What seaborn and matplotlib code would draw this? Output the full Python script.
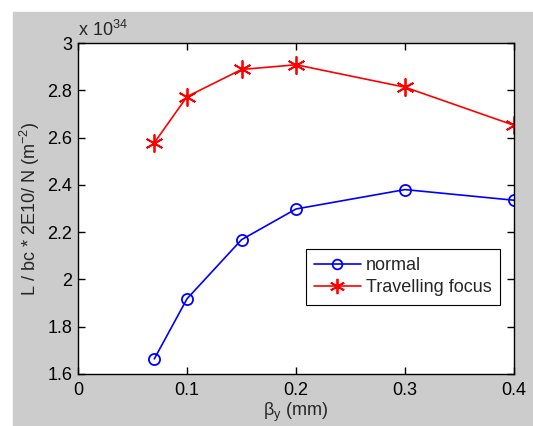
import matplotlib
matplotlib.use('Agg')
import matplotlib.pyplot as plt
import matplotlib.patches as mpatches
import seaborn as sns

# data (luminosity in units of 1e34)
beta_y = [0.07, 0.1, 0.15, 0.2, 0.3, 0.4]
normal = [1.664, 1.918, 2.168, 2.298, 2.380, 2.335]
travelling = [2.578, 2.773, 2.888, 2.908, 2.813, 2.652]
series_names = ['normal', 'Travelling focus']

sns.set_style('ticks')
plt.rcParams['font.family'] = ['Liberation Sans', 'DejaVu Sans']
plt.rcParams['mathtext.fontset'] = 'custom'
plt.rcParams['mathtext.rm'] = 'Liberation Sans'

FS = 13

fig = plt.figure(figsize=(5.33, 4.26), dpi=100, facecolor='white')
# matlab-like gray figure background
fig.patches.append(mpatches.Rectangle((13 / 533, 0), 1, (426 - 12) / 426,
                                      transform=fig.transFigure, color='#cccccc', zorder=-10))
ax = fig.add_axes([78 / 533, 52 / 426, 436 / 533, 331 / 426])
ax.set_facecolor('white')

sns.lineplot(x=beta_y, y=normal, color='blue', marker='o', markersize=8,
             markerfacecolor='none', markeredgecolor='blue', markeredgewidth=1.3,
             linewidth=1.2, label=series_names[0], ax=ax)
sns.lineplot(x=beta_y, y=travelling, color='red', marker=(6, 2, 0), markersize=13,
             markeredgecolor='red', markeredgewidth=1.3,
             linewidth=1.2, label=series_names[1], ax=ax)

ax.set_xlim(0, 0.4)
ax.set_ylim(1.6, 3.0)
ax.set_xticks([0, 0.1, 0.2, 0.3, 0.4])
ax.set_xticklabels(['0', '0.1', '0.2', '0.3', '0.4'])
ax.set_yticks([1.6, 1.8, 2.0, 2.2, 2.4, 2.6, 2.8, 3.0])
ax.set_yticklabels(['1.6', '1.8', '2', '2.2', '2.4', '2.6', '2.8', '3'])
ax.tick_params(direction='in', length=5, width=1, labelsize=FS, top=True, right=True,
               colors='black', pad=4)
ax.tick_params(axis='x', pad=6)
for s in ax.spines.values():
    s.set_visible(True)
    s.set_linewidth(1)
    s.set_color('black')

ax.set_xlabel(r'β$_\mathrm{y}$ (mm)', fontsize=FS, labelpad=1)
ax.set_ylabel(r'L / bc * 2E10/ N (m$^\mathrm{-2}$)', fontsize=FS, labelpad=4)
ax.text(0.0, 1.01, r'x 10$^\mathrm{34}$', transform=ax.transAxes, fontsize=FS,
        va='bottom', ha='left')

leg = ax.legend(loc='upper right', bbox_to_anchor=(0.968, 0.378), fontsize=FS,
                frameon=True, fancybox=False, edgecolor='black', framealpha=1,
                handlelength=2.6, borderpad=0.45, labelspacing=0.3, handletextpad=0.3,
                borderaxespad=0)
leg.get_frame().set_linewidth(0.8)
for h in leg.legend_handles:
    if h.get_marker() == 'o':
        h.set_markersize(7)
    else:
        h.set_markersize(11)

fig.savefig('out.png', dpi=100, facecolor=fig.get_facecolor())
